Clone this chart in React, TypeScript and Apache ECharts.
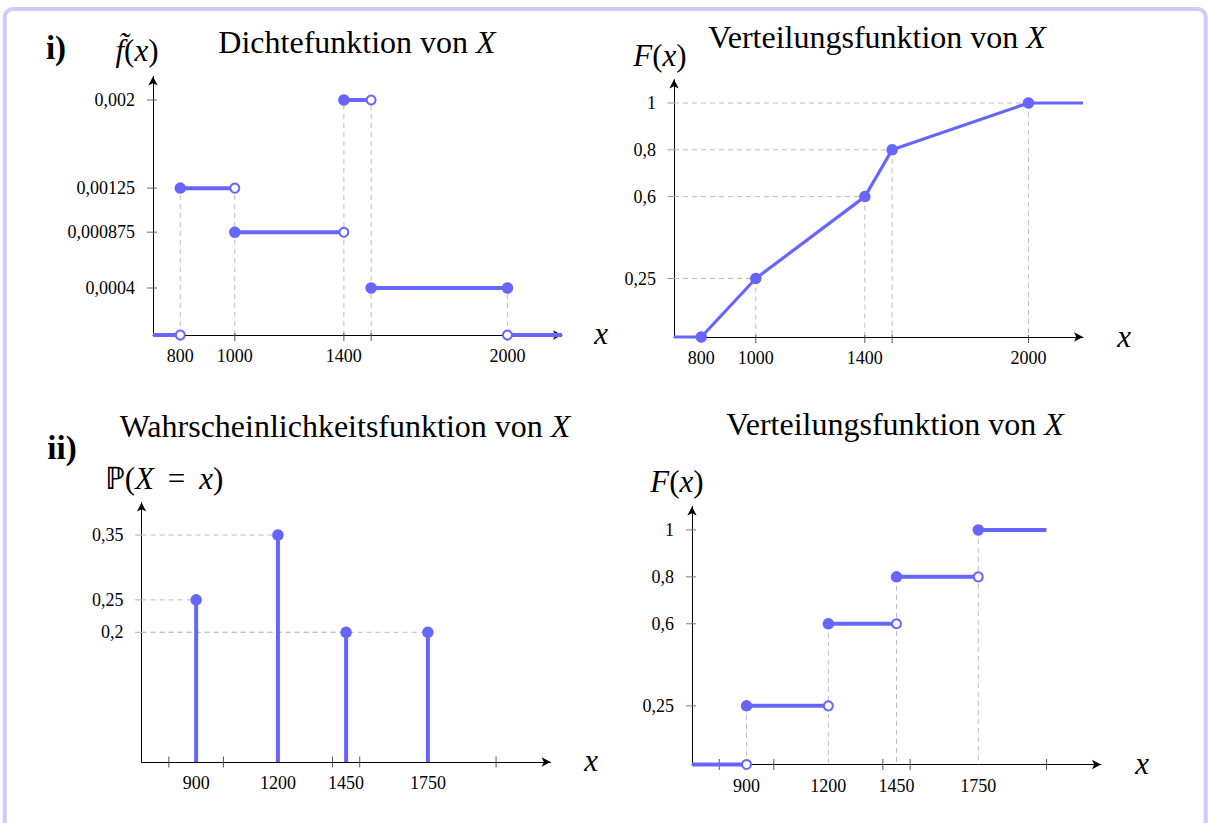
import React, { useEffect, useRef } from "react";
import * as echarts from "echarts";

const FONT = "'Liberation Serif', 'Times New Roman', serif";
const BLUE = "#6666ff";
const DASH = "#bdbdbd";

const X_MIN = 700;
const X_MAX = 2200;

// i) Dichtefunktion (histogram density)
const densEdges = [800, 1000, 1400, 1500, 2000];
const densValues = [0.00125, 0.000875, 0.002, 0.0004];
const densYTicks = [0.0004, 0.000875, 0.00125, 0.002];
const densXLabels = [800, 1000, 1400, 2000];
const densXTicks = [800, 1000, 1400, 1500, 2000];
const densYMax = 0.0022;

// i) Verteilungsfunktion (polygon)
const cdfX = [700, 800, 1000, 1400, 1500, 2000, 2200];
const cdfY = [0, 0, 0.25, 0.6, 0.8, 1, 1];
const cdfYTicks = [0.25, 0.6, 0.8, 1];
const cdfXLabels = [800, 1000, 1400, 2000];
const cdfXTicks = [800, 1000, 1400, 1500, 2000];
const cdfYMax = 1.1;

// ii) Wahrscheinlichkeitsfunktion
const pmfX = [900, 1200, 1450, 1750];
const pmfP = [0.25, 0.35, 0.2, 0.2];
const pmfYTicks = [0.2, 0.25, 0.35];
const pmfXTicks = [800, 1000, 1400, 1500, 2000];
const pmfYMax = 0.4;

// ii) Verteilungsfunktion (step)
const stepX = [900, 1200, 1450, 1750];
const stepY = [0.25, 0.6, 0.8, 1];
const stepEnd = 2000;
const stepYTicks = [0.25, 0.6, 0.8, 1];
const stepXTicks = [800, 1000, 1400, 1500, 2000];
const stepYMax = 1.1;

type Pt = [number, number];

const fmt = (v: number) => String(v).replace(".", ",");

const SEG_W = 4;

function seg(g: number, pts: Pt[], color: string, width: number, dashed = false, z = 2) {
  return {
    type: "line",
    xAxisIndex: g,
    yAxisIndex: g,
    data: pts,
    symbol: "none",
    silent: true,
    z,
    clip: false,
    lineStyle: { color, width, type: dashed ? [5, 4] : "solid", cap: "butt" },
    emphasis: { disabled: true },
  };
}

function dots(g: number, pts: Pt[], open: boolean) {
  return {
    type: "scatter",
    xAxisIndex: g,
    yAxisIndex: g,
    data: pts,
    symbol: "circle",
    symbolSize: open ? 9 : 11.5,
    silent: true,
    z: 5,
    clip: false,
    itemStyle: open
      ? { color: "#ffffff", borderColor: BLUE, borderWidth: 2, opacity: 1 }
      : { color: BLUE, opacity: 1 },
    emphasis: { disabled: true },
  };
}

function ticks(g: number, pts: Pt[], size: [number, number], offset: [number, number], color: string) {
  return {
    type: "scatter",
    xAxisIndex: g,
    yAxisIndex: g,
    data: pts,
    symbol: "rect",
    symbolSize: size,
    symbolOffset: offset,
    silent: true,
    z: 1,
    clip: false,
    itemStyle: { color, opacity: 1 },
    emphasis: { disabled: true },
  };
}

function xAxis(g: number, labels: number[]) {
  return {
    type: "value",
    gridIndex: g,
    min: X_MIN,
    max: X_MAX,
    axisLine: {
      show: true,
      onZero: false,
      symbol: ["none", "arrow"],
      symbolSize: [7, 9],
      lineStyle: { color: "#000", width: 1 },
    },
    axisTick: { show: false },
    axisLabel: {
      show: true,
      customValues: labels,
      margin: 12,
      color: "#000",
      fontFamily: FONT,
      fontSize: 18,
      formatter: (v: number) => fmt(v),
    },
    splitLine: { show: false },
  };
}

function yAxis(g: number, max: number, labels: number[]) {
  return {
    type: "value",
    gridIndex: g,
    min: 0,
    max,
    axisLine: {
      show: true,
      onZero: false,
      symbol: ["none", "arrow"],
      symbolSize: [7, 9],
      lineStyle: { color: "#000", width: 1 },
    },
    axisTick: { show: false },
    axisLabel: {
      show: true,
      customValues: labels,
      margin: 18,
      color: "#000",
      fontFamily: FONT,
      fontSize: 18,
      formatter: (v: number) => fmt(v),
    },
    splitLine: { show: false },
  };
}

function txt(x: number, y: number, text: string, size: number, opts: any = {}) {
  return {
    type: "text",
    x,
    y,
    z: 10,
    silent: true,
    style: {
      text,
      fill: "#000",
      fontFamily: FONT,
      fontSize: size,
      fontWeight: opts.bold ? "bold" : "normal",
      align: opts.align || "center",
      verticalAlign: "middle",
      textAlign: opts.align || "center",
      textVerticalAlign: "middle",
      rich: {
        i: { fontFamily: FONT, fontSize: size, fontStyle: "italic", fill: "#000" },
        r: { fontFamily: FONT, fontSize: size, fill: "#000" },
      },
    },
  };
}

function buildSeries() {
  const s: any[] = [];
  // ---------- Panel 0: density ----------
  const g0 = 0;
  densEdges.forEach((e, i) => {
    const h = Math.max(densValues[i - 1] ?? 0, densValues[i] ?? 0);
    s.push(seg(g0, [[e, 0], [e, h]], DASH, 1, true, 1));
  });
  s.push(seg(g0, [[X_MIN, 0], [densEdges[0], 0]], BLUE, SEG_W));
  s.push(seg(g0, [[densEdges[densEdges.length - 1], 0], [X_MAX, 0]], BLUE, SEG_W));
  densValues.forEach((v, i) => s.push(seg(g0, [[densEdges[i], v], [densEdges[i + 1], v]], BLUE, SEG_W)));
  const d0Filled: Pt[] = densValues.map((v, i) => [densEdges[i], v] as Pt);
  d0Filled.push([densEdges[densEdges.length - 1], densValues[densValues.length - 1]]);
  const d0Open: Pt[] = densValues.slice(0, -1).map((v, i) => [densEdges[i + 1], v] as Pt);
  d0Open.push([densEdges[0], 0], [densEdges[densEdges.length - 1], 0]);
  s.push(ticks(g0, densXTicks.map((x) => [x, 0] as Pt), [1, 8], [0, 2], "#555"));
  s.push(ticks(g0, densYTicks.map((y) => [X_MIN, y] as Pt), [10, 1], [-1, 0], "#666"));
  s.push(dots(g0, d0Filled, false));
  s.push(dots(g0, d0Open, true));

  // ---------- Panel 1: CDF polygon ----------
  const g1 = 1;
  cdfX.forEach((x, i) => {
    const y = cdfY[i];
    if (y > 0 && x < X_MAX) {
      s.push(seg(g1, [[X_MIN, y], [x, y]], DASH, 1, true, 1));
      s.push(seg(g1, [[x, y], [x, 0]], DASH, 1, true, 1));
    }
  });
  s.push(seg(g1, cdfX.map((x, i) => [x, cdfY[i]] as Pt), BLUE, 3.2));
  s.push(ticks(g1, cdfXTicks.map((x) => [x, 0] as Pt), [1, 8], [0, 2], "#555"));
  s.push(ticks(g1, cdfYTicks.map((y) => [X_MIN, y] as Pt), [7, 1], [-3, 0], "#999"));
  s.push(dots(g1, cdfX.map((x, i) => [x, cdfY[i]] as Pt).filter((p) => p[0] > X_MIN && p[0] < X_MAX), false));

  // ---------- Panel 2: pmf ----------
  const g2 = 2;
  pmfX.forEach((x, i) => {
    s.push(seg(g2, [[X_MIN, pmfP[i]], [x, pmfP[i]]], DASH, 1, true, 1));
  });
  pmfX.forEach((x, i) => s.push(seg(g2, [[x, 0], [x, pmfP[i]]], BLUE, SEG_W)));
  s.push(ticks(g2, pmfXTicks.map((x) => [x, 0] as Pt), [1, 11], [0, 0], "#555"));
  s.push(ticks(g2, pmfYTicks.map((y) => [X_MIN, y] as Pt), [7, 1], [-3, 0], "#aaa"));
  s.push(dots(g2, pmfX.map((x, i) => [x, pmfP[i]] as Pt), false));

  // ---------- Panel 3: step CDF ----------
  const g3 = 3;
  stepX.forEach((x, i) => s.push(seg(g3, [[x, stepY[i]], [x, 0]], DASH, 1, true, 1)));
  s.push(seg(g3, [[X_MIN, 0], [stepX[0], 0]], BLUE, SEG_W));
  stepX.forEach((x, i) => s.push(seg(g3, [[x, stepY[i]], [stepX[i + 1] ?? stepEnd, stepY[i]]], BLUE, SEG_W)));
  const s3Open: Pt[] = stepX.slice(1).map((x, i) => [x, stepY[i]] as Pt);
  s3Open.push([stepX[0], 0]);
  s.push(ticks(g3, stepXTicks.map((x) => [x, 0] as Pt), [1, 11], [0, 0], "#555"));
  s.push(ticks(g3, stepYTicks.map((y) => [X_MIN, y] as Pt), [10, 1], [-1, 0], "#777"));
  s.push(dots(g3, stepX.map((x, i) => [x, stepY[i]] as Pt), false));
  s.push(dots(g3, s3Open, true));
  return s;
}

export default function App() {
  const ref = useRef<HTMLDivElement>(null);
  useEffect(() => {
    if (!ref.current) return;
    const chart = echarts.init(ref.current, null, { renderer: "svg" });
    const option: any = {
      animation: false,
      backgroundColor: "#ffffff",
      grid: [
        { left: 153, top: 335 - 258.5, width: 409, height: 258.5 },
        { left: 674, top: 337 - 257.4, width: 409, height: 257.4 },
        { left: 141.6, top: 762 - 259.4, width: 409, height: 259.4 },
        { left: 692, top: 764.5 - 258, width: 409, height: 258 },
      ],
      xAxis: [xAxis(0, densXLabels), xAxis(1, cdfXLabels), xAxis(2, pmfX), xAxis(3, stepX)],
      yAxis: [
        yAxis(0, densYMax, densYTicks),
        yAxis(1, cdfYMax, cdfYTicks),
        yAxis(2, pmfYMax, pmfYTicks),
        yAxis(3, stepYMax, stepYTicks),
      ],
      series: buildSeries(),
      graphic: [
        {
          type: "rect",
          z: 20,
          silent: true,
          shape: { x: 4.7, y: 9, width: 1201, height: 840, r: 8 },
          style: { fill: "none", stroke: "#ccccff", lineWidth: 4 },
        },
        txt(56, 48, "i)", 33, { bold: true }),
        txt(137, 50, "{i|f\u0303}({i|x})", 31),
        txt(357, 42, "Dichtefunktion von {i|X}", 32),
        txt(601, 333, "{i|x}", 31),
        txt(660, 55, "{i|F}({i|x})", 31),
        txt(877, 37, "Verteilungsfunktion von {i|X}", 32),
        txt(1124, 336, "{i|x}", 31),
        txt(345, 426, "Wahrscheinlichkeitsfunktion von {i|X}", 32),
        txt(62, 448, "ii)", 33, { bold: true }),
        txt(164, 478, "\u2119({i|X} \u2009=\u2009 {i|x})", 31),
        txt(591, 760, "{i|x}", 31),
        txt(895, 424, "Verteilungsfunktion von {i|X}", 32),
        txt(677, 481, "{i|F}({i|x})", 31),
        txt(1142, 763, "{i|x}", 31),
      ],
    };
    chart.setOption(option);
    return () => chart.dispose();
  }, []);
  return (
    <div
      ref={ref}
      style={{ position: "absolute", left: 0, top: 0, width: 1208, height: 823, background: "#fff" }}
    />
  );
}
